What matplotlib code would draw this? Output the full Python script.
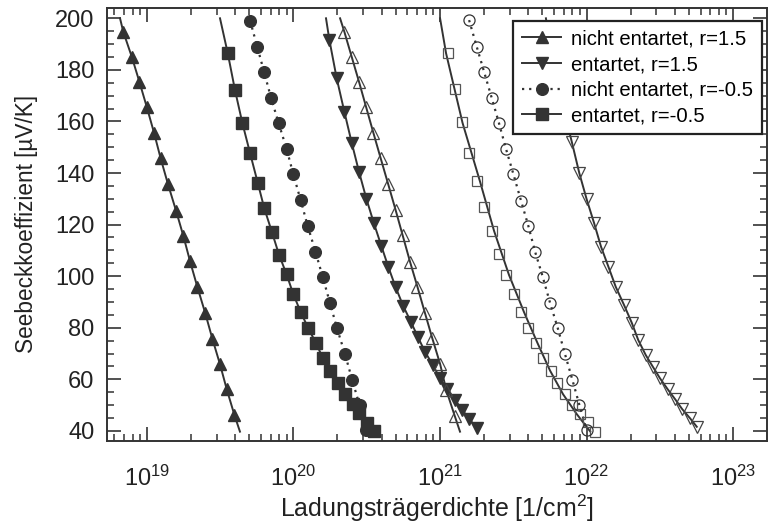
import numpy as np
import matplotlib
matplotlib.use('Agg')
import matplotlib.pyplot as plt
from matplotlib.lines import Line2D
from matplotlib.ticker import MultipleLocator, LogLocator

plt.rcParams['font.family'] = ['Liberation Sans', 'DejaVu Sans']
plt.rcParams['mathtext.fontset'] = 'custom'
plt.rcParams['mathtext.rm'] = 'Liberation Sans'

# log10 of carrier density, Seebeck coefficient in uV/K
# filled set
tri_up_logn = [18.840, 18.898, 18.950, 19.000, 19.050, 19.095, 19.145, 19.200,
               19.250, 19.295, 19.345, 19.398, 19.448, 19.500, 19.546, 19.598]
tri_up_S = [194.8, 185.1, 175.4, 165.7, 155.6, 145.7, 135.7, 125.4,
            115.6, 105.9, 95.9, 85.9, 75.7, 65.8, 56.1, 46.2]
tri_up_fit_logn = [18.818, 19.636]
tri_up_fit_S = [200.0, 39.7]

sq_logn = [19.553, 19.602, 19.652, 19.705, 19.757, 19.802, 19.853, 19.902, 19.954,
           20.000, 20.051, 20.102, 20.155, 20.200, 20.250, 20.303, 20.353, 20.405,
           20.450, 20.501, 20.550]
sq_S = [186.4, 172.2, 159.5, 147.7, 136.3, 126.3, 117.3, 108.4, 100.7, 93.0, 86.0,
        79.8, 74.0, 68.4, 63.2, 58.7, 54.3, 50.4, 46.8, 43.0, 40.0]
sq_fit_logn = [19.500]
sq_fit_S = [200.0]

circ_logn = [19.705, 19.754, 19.800, 19.848, 19.900, 19.955, 20.000, 20.050, 20.098,
             20.151, 20.201, 20.250, 20.298, 20.353, 20.402, 20.452, 20.496]
circ_S = [199.1, 189.0, 179.3, 169.2, 159.3, 149.2, 139.5, 129.5, 119.5,
          109.5, 99.6, 89.6, 79.8, 69.7, 59.7, 49.9, 40.4]

tri_dn_logn = [20.246, 20.296, 20.348, 20.398, 20.448, 20.498, 20.548, 20.600, 20.648,
               20.698, 20.750, 20.801, 20.849, 20.898, 20.951, 21.001, 21.050, 21.103,
               21.153, 21.200, 21.251]
tri_dn_S = [191.6, 176.7, 163.8, 151.8, 140.5, 130.1, 120.8, 111.8, 103.6, 95.7, 88.4,
            82.4, 76.5, 70.7, 65.6, 60.4, 56.1, 52.0, 48.1, 44.5, 41.3]
tri_dn_fit_logn = [20.223]
tri_dn_fit_S = [200.0]

# open set
otri_up_logn = [20.348, 20.398, 20.448, 20.496, 20.546, 20.596, 20.646, 20.698,
                20.746, 20.796, 20.847, 20.898, 20.948, 21.001, 21.043, 21.101]
otri_up_S = [194.8, 185.1, 175.4, 165.7, 155.6, 145.7, 135.9, 125.6,
             115.8, 105.6, 95.8, 85.7, 75.9, 66.0, 55.9, 45.8]
otri_up_fit_logn = [20.319, 21.137]
otri_up_fit_S = [200.0, 39.7]

osq_logn = [21.057, 21.103, 21.153, 21.200, 21.251, 21.303, 21.353, 21.403, 21.451,
            21.506, 21.554, 21.603, 21.656, 21.705, 21.756, 21.801, 21.853, 21.903,
            21.956, 22.012, 22.058]
osq_S = [186.4, 172.5, 159.6, 147.9, 136.8, 126.8, 117.6, 108.6, 100.5, 93.1, 86.0,
         79.8, 74.0, 68.2, 63.4, 58.5, 54.2, 50.1, 46.6, 43.4, 39.7]
osq_fit_logn = [21.001, 21.042, 21.154, 21.274, 21.369, 21.471, 21.574, 21.666,
                21.751, 21.840, 21.932, 22.025]
osq_fit_S = [200.0, 186.4, 159.5, 136.6, 117.6, 100.5, 86.0, 74.0, 63.4, 54.2, 46.6, 39.8]

ocirc_logn = [21.199, 21.251, 21.301, 21.353, 21.403, 21.451, 21.501, 21.553, 21.603,
              21.649, 21.701, 21.751, 21.804, 21.853, 21.903, 21.951, 22.001]
ocirc_S = [199.3, 189.0, 179.3, 169.2, 159.3, 149.3, 139.6, 129.3, 119.5,
           109.5, 99.8, 89.7, 79.8, 69.8, 59.9, 50.1, 40.4]

otri_dn_logn = [21.746, 21.796, 21.848, 21.899, 21.951, 22.001, 22.051, 22.099, 22.149,
                22.199, 22.256, 22.308, 22.353, 22.404, 22.452, 22.501, 22.554, 22.604,
                22.653, 22.706, 22.752]
otri_dn_S = [191.6, 176.7, 163.8, 152.2, 139.9, 129.8, 120.7, 111.4, 103.7, 95.9, 88.8,
             82.0, 75.2, 69.4, 64.9, 60.4, 56.1, 52.3, 48.4, 44.9, 41.6]
otri_dn_fit_logn = [21.723]
otri_dn_fit_S = [200.0]

legend_labels = ['nicht entartet, r=1.5', 'entartet, r=1.5',
                 'nicht entartet, r=-0.5', 'entartet, r=-0.5']

dark = '#333333'
dot = (0, (1, 2.2))


def n(v):
    return 10 ** np.array(v)


fig = plt.figure(figsize=(7.68, 5.26), dpi=100)
ax = fig.add_axes([0.1393, 0.1622, 0.8594, 0.8226])

# fitted lines (solid), line runs through the markers and past the ends
ax.plot(n(tri_up_fit_logn[:1] + tri_up_logn + tri_up_fit_logn[1:]),
        tri_up_fit_S[:1] + tri_up_S + tri_up_fit_S[1:], color=dark, lw=1.4)
ax.plot(n(sq_fit_logn + sq_logn), sq_fit_S + sq_S, color=dark, lw=1.4)
ax.plot(n(tri_dn_fit_logn + tri_dn_logn), tri_dn_fit_S + tri_dn_S, color=dark, lw=1.4)
ax.plot(n(circ_logn), circ_S, color=dark, lw=1.6, linestyle=dot)

ax.plot(n(otri_up_fit_logn[:1] + otri_up_logn + otri_up_fit_logn[1:]),
        otri_up_fit_S[:1] + otri_up_S + otri_up_fit_S[1:], color=dark, lw=1.4)
ax.plot(n(osq_fit_logn), osq_fit_S, color=dark, lw=1.4)
ax.plot(n(otri_dn_fit_logn + otri_dn_logn), otri_dn_fit_S + otri_dn_S, color=dark, lw=1.4)
ax.plot(n(ocirc_logn), ocirc_S, color=dark, lw=1.6, linestyle=dot)

# filled markers
ax.plot(n(tri_up_logn), tri_up_S, ls='none', marker='^', ms=9, color=dark, mec=dark)
ax.plot(n(sq_logn), sq_S, ls='none', marker='s', ms=8.8, color=dark, mec=dark)
ax.plot(n(circ_logn), circ_S, ls='none', marker='o', ms=8.4, color=dark, mec=dark)
ax.plot(n(tri_dn_logn), tri_dn_S, ls='none', marker='v', ms=9, color=dark, mec=dark)

# open markers
ax.plot(n(otri_up_logn), otri_up_S, ls='none', marker='^', ms=9, mfc='none', mec='#444444', mew=0.9)
ax.plot(n(osq_logn), osq_S, ls='none', marker='s', ms=7.8, mfc='none', mec='#555555', mew=0.9)
ax.plot(n(ocirc_logn), ocirc_S, ls='none', marker='o', ms=8, mfc='none', mec='#333333', mew=0.9)
ax.plot(n(otri_dn_logn), otri_dn_S, ls='none', marker='v', ms=8.5, mfc='none', mec='#444444', mew=0.9)

ax.set_xscale('log')
ax.set_xlim(10 ** 18.729, 10 ** 23.231)
ax.set_ylim(36.2, 204.0)
ax.yaxis.set_major_locator(MultipleLocator(20))
ax.yaxis.set_minor_locator(MultipleLocator(5))
ax.xaxis.set_major_locator(LogLocator(base=10, numticks=10))
ax.xaxis.set_minor_locator(LogLocator(base=10, subs=np.arange(2, 10), numticks=20))

ax.tick_params(which='both', direction='in', top=True, right=True, color=dark,
               labelsize=17, labelcolor='#222222')
ax.tick_params(which='major', length=10, width=1.2)
ax.tick_params(which='minor', length=5.3, width=1.1)
ax.tick_params(axis='y', which='major', pad=9)
ax.tick_params(axis='x', which='major', pad=18)
for s in ax.spines.values():
    s.set_linewidth(1.4)
    s.set_color(dark)

ax.set_xlabel('Ladungsträgerdichte [1/cm$^2$]', fontsize=18, color='#222222', labelpad=1)
ax.set_ylabel('Seebeckkoeffizient [µV/K]', fontsize=16.3, color='#222222', labelpad=12)

handles = [
    Line2D([], [], color=dark, lw=1.4, marker='^', ms=9),
    Line2D([], [], color=dark, lw=1.4, marker='v', ms=9),
    Line2D([], [], color=dark, lw=1.6, linestyle=dot, marker='o', ms=8.4),
    Line2D([], [], color=dark, lw=1.4, marker='s', ms=8.8),
]
leg = ax.legend(handles, legend_labels, loc='upper right', fontsize=14.6,
                bbox_to_anchor=(0.9924, 0.970),
                frameon=True, fancybox=False, framealpha=1, edgecolor='#222222',
                handlelength=1.95, handletextpad=0.5, labelspacing=0.33,
                borderpad=0.42, borderaxespad=0.0)
leg.get_frame().set_linewidth(1.6)
leg.set_zorder(10)

fig.savefig('out.png', dpi=100)
